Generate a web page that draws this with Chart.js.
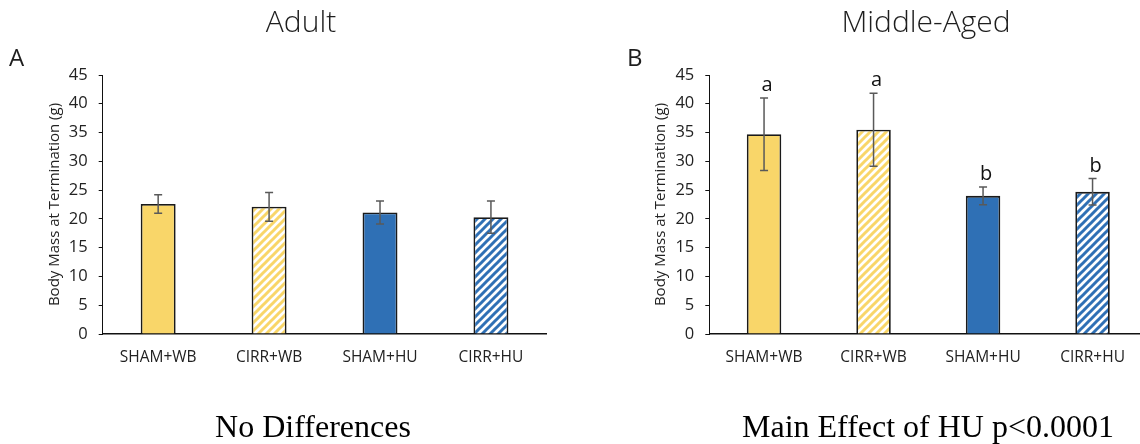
<!DOCTYPE html>
<html>
<head>
<meta charset="utf-8">
<script src="https://cdn.jsdelivr.net/npm/chart.js@4.4.1/dist/chart.umd.min.js"></script>
<style>
  html, body { margin: 0; padding: 0; background: #fff; overflow: hidden; }
  #page { position: relative; width: 1140px; height: 444px; overflow: hidden; }
  canvas { position: absolute; top: 0; }
  .txt { position: absolute; white-space: nowrap; color: #1e1e1e; }
  .title { font-family: "Open Sans", sans-serif; font-size: 30px; line-height: 30px; font-weight: 300; transform: translateX(-50%); }
  .panel { font-family: "Open Sans", sans-serif; font-size: 24px; line-height: 24px; }
  .caption { font-family: "Liberation Serif", "Times New Roman", serif; font-size: 32px; line-height: 32px; color: #000; transform: translateX(-50%); }
</style>
</head>
<body>
<div id="page">
  <canvas id="adult" width="570" height="444" style="left:0;width:570px;height:444px"></canvas>
  <canvas id="middle" width="600" height="444" style="left:570px;width:600px;height:444px"></canvas>

  <div class="txt title" style="left:301px;top:6px">Adult</div>
  <div class="txt title" style="left:926px;top:6px">Middle-Aged</div>
  <div class="txt panel" style="left:9px;top:45px">A</div>
  <div class="txt panel" style="left:627px;top:45px">B</div>
  <div class="txt caption" style="left:313px;top:410px">No Differences</div>
  <div class="txt caption" style="left:928px;top:410px">Main Effect of HU p&lt;0.0001</div>
</div>

<script>
// data

const groups = ["SHAM+WB", "CIRR+WB", "SHAM+HU", "CIRR+HU"];
const adultMass = [22.6, 22.1, 21.1, 20.3];
const adultErr = [1.6, 2.5, 2.0, 2.8];
const middleMass = [34.7, 35.5, 24.0, 24.7];
const middleErr = [6.3, 6.35, 1.55, 2.3];
const middleLetters = ["a", "a", "b", "b"];
const yAxisTitle = "Body Mass at Termination (g)";

// colours and hatching

const yellow = "#F9D669";
const blue = "#2F70B5";

function hatch(color) {
    const c = document.createElement("canvas");
    const s = 8;
    c.width = s;
    c.height = s;
    const g = c.getContext("2d");
    g.fillStyle = "#fff";
    g.fillRect(0, 0, s, s);
    g.strokeStyle = color;
    g.lineWidth = 3;
    g.beginPath();
    g.moveTo(-1, s + 1); g.lineTo(s + 1, -1);
    g.moveTo(-2, 2); g.lineTo(2, -2);
    g.moveTo(s - 2, s + 2); g.lineTo(s + 2, s - 2);
    g.stroke();
    return g.createPattern(c, "repeat");
}

const fills = [yellow, hatch(yellow), blue, hatch(blue)];

// error bars + letters drawn from the chart's own scales

const errorBars = {
    id: "errorBars",
    afterDatasetsDraw(chart, args, opts) {
        const ctx = chart.ctx;
        const y = chart.scales.y;
        const bars = chart.getDatasetMeta(0).data;
        ctx.save();
        ctx.strokeStyle = "#595959";
        ctx.lineWidth = 1.5;
        bars.forEach((bar, i) => {
            const v = chart.data.datasets[0].data[i];
            const top = y.getPixelForValue(v + opts.errors[i]);
            const bot = y.getPixelForValue(v - opts.errors[i]);
            ctx.beginPath();
            ctx.moveTo(bar.x, top); ctx.lineTo(bar.x, bot);
            ctx.moveTo(bar.x - 4, top); ctx.lineTo(bar.x + 4, top);
            ctx.moveTo(bar.x - 4, bot); ctx.lineTo(bar.x + 4, bot);
            ctx.stroke();
            if (opts.letters) {
                ctx.fillStyle = "#111";
                ctx.font = "20px 'Open Sans', sans-serif";
                ctx.textAlign = "center";
                ctx.textBaseline = "alphabetic";
                ctx.fillText(opts.letters[i], bar.x + 3, top - 7);
            }
        });
        ctx.restore();
    }
};

function makeChart(id, values, errors, letters, pad, yWidth) {
    return new Chart(document.getElementById(id), {
        type: "bar",
        data: {
            labels: groups,
            datasets: [{
                data: values,
                backgroundColor: fills,
                borderColor: "#1a1a1a",
                borderWidth: 1.8,
                barPercentage: 0.315,
                categoryPercentage: 1
            }]
        },
        options: {
            responsive: false,
            animation: false,
            events: [],
            layout: { padding: pad },
            plugins: {
                legend: { display: false },
                tooltip: { enabled: false },
                errorBars: { errors: errors, letters: letters }
            },
            scales: {
                x: {
                    afterFit: s => { s.height = 70; },
                    grid: { display: false, drawTicks: false },
                    border: { display: true, color: "#111", width: 1.5 },
                    ticks: {
                        padding: 14,
                        color: "#222",
                        font: { family: "'Open Sans', sans-serif", size: 15.5 }
                    }
                },
                y: {
                    min: 0,
                    max: 45,
                    afterFit: s => { s.width = yWidth; },
                    grid: { display: true, drawOnChartArea: false, drawTicks: true, tickLength: 4, color: "#111" },
                    border: { display: true, color: "#111", width: 1 },
                    ticks: {
                        stepSize: 5,
                        padding: 11,
                        color: "#222",
                        font: { family: "'Open Sans', sans-serif", size: 16.5 }
                    },
                    title: {
                        display: true,
                        text: yAxisTitle,
                        color: "#222",
                        padding: { top: 4, bottom: 4 },
                        font: { family: "'Open Sans', sans-serif", size: 15 }
                    }
                }
            }
        },
        plugins: [errorBars]
    });
}

makeChart("adult", adultMass, adultErr, null,
    { left: 41.3, top: 75, right: 23.6, bottom: 40 }, 61.4);
makeChart("middle", middleMass, middleErr, middleLetters,
    { left: 77.7, top: 75, right: 22.7, bottom: 40 }, 61.6);
</script>
</body>
</html>
